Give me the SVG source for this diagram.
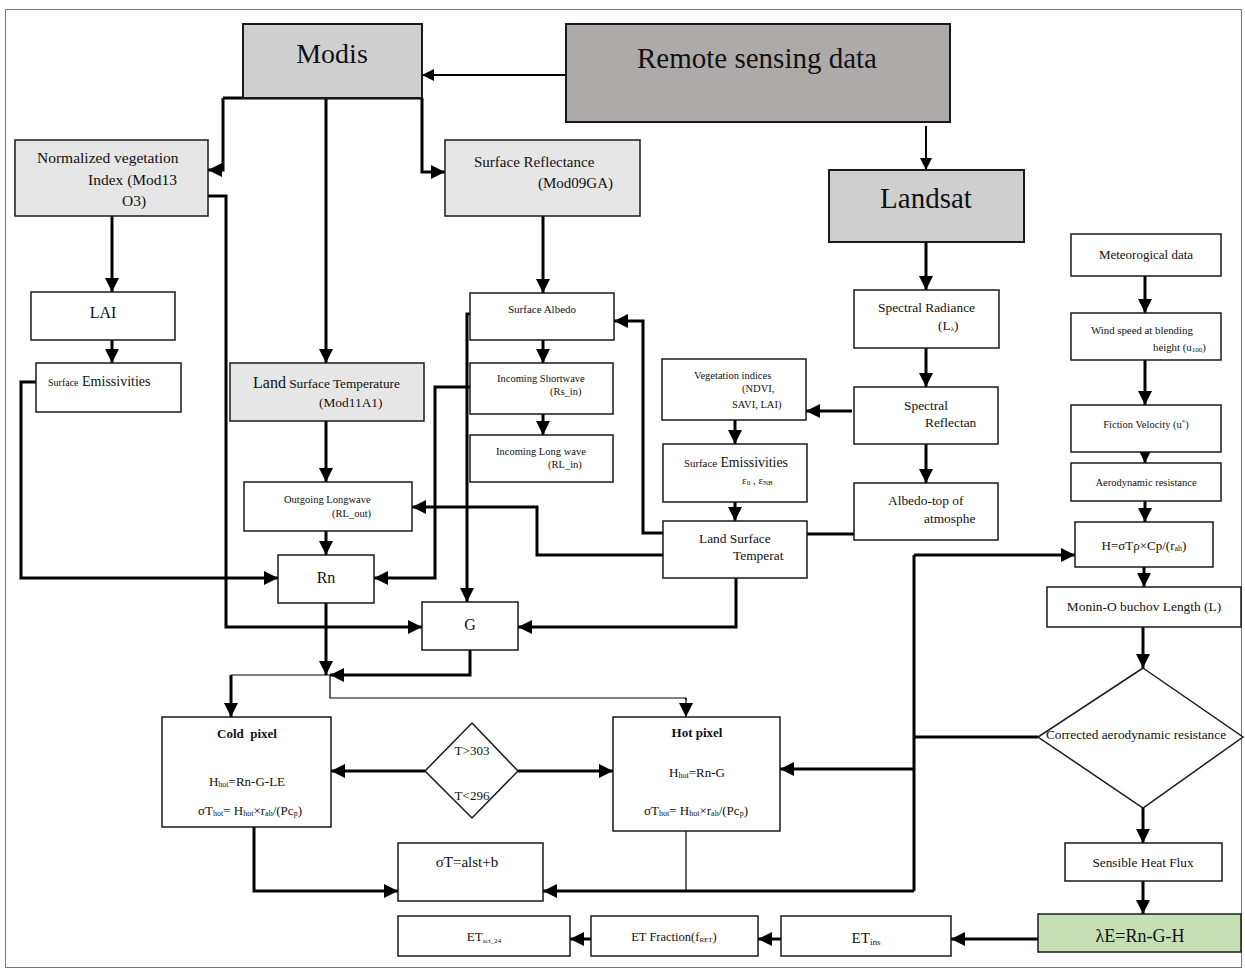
<svg xmlns="http://www.w3.org/2000/svg" width="1245" height="972" viewBox="0 0 1245 972">
<defs>
<marker id="ah" viewBox="0 0 10 10" refX="10" refY="5" markerWidth="14" markerHeight="14" markerUnits="userSpaceOnUse" orient="auto"><path d="M0,0 L10,5 L0,10 z" fill="#000"/></marker>
<marker id="ahs" viewBox="0 0 10 10" refX="10" refY="5" markerWidth="12" markerHeight="12" markerUnits="userSpaceOnUse" orient="auto"><path d="M0,0 L10,5 L0,10 z" fill="#000"/></marker>
</defs>
<style>
.box{fill:#fff;stroke:#1a1a1a;stroke-width:1.5}
.g1{fill:#e6e6e6}
.g2{fill:#d0cfd0;stroke-width:2}
.g3{fill:#aeaaa9;stroke-width:2}
.gr{fill:#c5e0b4}
text{font-family:"Liberation Serif","Times New Roman",serif;fill:#111}
.m{text-anchor:middle}
.c{stroke:#000;stroke-width:3;fill:none;marker-end:url(#ah)}
.n{stroke:#000;stroke-width:3;fill:none}
.t2{stroke:#000;stroke-width:2;fill:none;marker-end:url(#ahs)}
.t1{stroke:#000;stroke-width:1.2;fill:none}
.t1a{stroke:#000;stroke-width:1.2;fill:none;marker-end:url(#ah)}
</style>
<rect x="5.5" y="9.5" width="1236" height="958" fill="#fff" stroke="#777" stroke-width="1"/>

<g id="connectors">
<path class="t2" d="M566 75 H422"/>
<path class="t2" d="M926 126 V170"/>
<path class="n" d="M223 98 H422"/>
<path class="c" d="M223 98 V170 H208"/>
<path class="c" d="M326 98 V363"/>
<path class="c" d="M422 98 V172 H445"/>
<path class="c" d="M112 216 V292"/>
<path class="c" d="M112 340 V363"/>
<path class="c" d="M36 382 H21 V578 H278"/>
<path class="c" d="M208 196 H226 V627 H422"/>
<path class="c" d="M543 216 V293"/>
<path class="c" d="M543 340 V363"/>
<path class="c" d="M543 414 V435"/>
<path class="c" d="M470 314 H467 V602"/>
<path class="c" d="M470 387 H435 V578 H374"/>
<path class="c" d="M326 421 V482"/>
<path class="c" d="M326 531 V555"/>
<path class="c" d="M663 555 H537 V507 H412"/>
<path class="c" d="M663 533 H643 V321 H614"/>
<path class="c" d="M852 411 H806"/>
<path class="c" d="M735 420 V444"/>
<path class="c" d="M735 502 V521"/>
<path class="n" d="M807 534 H854"/>
<path class="c" d="M926 242 V290"/>
<path class="c" d="M926 348 V387"/>
<path class="c" d="M926 444 V483"/>
<path class="c" d="M736 578 V627 H518"/>
<path class="c" d="M326 603 V675"/>
<path class="c" d="M470 650 V675 H330"/>
<path class="t1" d="M330 675 H231"/>
<path class="c" d="M231 675 V717"/>
<path class="t1" d="M330 675 V698 H686 V700"/>
<path class="t1a" d="M686 698 V717"/>
<path class="c" d="M425 771 H331"/>
<path class="c" d="M518 771 H613"/>
<path class="c" d="M254 827 V891 H398"/>
<path class="t1" d="M686 831 V891"/>
<path class="n" d="M1038 737 H914"/>
<path class="n" d="M914 555 V891"/>
<path class="c" d="M914 555 H1075"/>
<path class="c" d="M914 769 H780"/>
<path class="c" d="M914 891 H543"/>
<path class="c" d="M1145 276 V313"/>
<path class="c" d="M1145 360 V405"/>
<path class="c" d="M1145 452 V463"/>
<path class="c" d="M1145 501 V522"/>
<path class="c" d="M1144 567 V587"/>
<path class="c" d="M1143 627 V668"/>
<path class="c" d="M1143 808 V843"/>
<path class="c" d="M1143 881 V914"/>
<path class="c" d="M1038 939 H951"/>
<path class="c" d="M781 939 H758"/>
<path class="c" d="M591 939 H570"/>
</g>

<g id="modis"><rect class="box g2" x="243" y="24" width="179" height="74"/><text class="m" x="332" y="63" font-size="28">Modis</text></g>
<g id="remote"><rect class="box g3" x="566" y="24" width="384" height="98"/><text class="m" x="757" y="68" font-size="29">Remote sensing data</text></g>
<g id="landsat"><rect class="box g2" x="829" y="170" width="195" height="72"/><text class="m" x="926" y="208" font-size="29">Landsat</text></g>
<g id="ndvi"><rect class="box g1" x="15" y="140" width="193" height="76"/><text x="37" y="163" font-size="15.5">Normalized vegetation</text><text x="88" y="185" font-size="15.5">Index (Mod13</text><text x="122" y="206" font-size="15.5">O3)</text></g>
<g id="surfrefl"><rect class="box g1" x="445" y="140" width="195" height="76"/><text x="474" y="167" font-size="15">Surface Reflectance</text><text x="538" y="188" font-size="15">(Mod09GA)</text></g>
<g id="lai"><rect class="box" x="31" y="292" width="144" height="48"/><text class="m" x="103" y="318" font-size="16">LAI</text></g>
<g id="se1"><rect class="box" x="36" y="363" width="145" height="49"/><text x="48" y="386"><tspan font-size="10">Surface</tspan><tspan font-size="14"> Emissivities</tspan></text></g>
<g id="lstm"><rect class="box g1" x="230" y="363" width="194" height="58"/><text x="253" y="388"><tspan font-size="16">Land</tspan><tspan font-size="13.3"> Surface Temperature</tspan></text><text x="319" y="407" font-size="13.4">(Mod11A1)</text></g>
<g id="albedo"><rect class="box" x="470" y="293" width="144" height="47"/><text class="m" x="542" y="313" font-size="11">Surface Albedo</text></g>
<g id="isw"><rect class="box" x="470" y="363" width="143" height="51"/><text x="497" y="382" font-size="10.5">Incoming Shortwave</text><text x="550" y="395" font-size="10.5">(Rs_in)</text></g>
<g id="ilw"><rect class="box" x="470" y="435" width="143" height="47"/><text x="496" y="455" font-size="10.5">Incoming Long wave</text><text x="548" y="468" font-size="10.5">(RL_in)</text></g>
<g id="olw"><rect class="box" x="244" y="482" width="168" height="49"/><text x="284" y="503" font-size="10.5">Outgoing Longwave</text><text x="332" y="517" font-size="10.5">(RL_out)</text></g>
<g id="rn"><rect class="box" x="278" y="555" width="96" height="48"/><text class="m" x="326" y="583" font-size="16">Rn</text></g>
<g id="g"><rect class="box" x="422" y="602" width="96" height="48"/><text class="m" x="470" y="630" font-size="16">G</text></g>
<g id="vi"><rect class="box" x="662" y="359" width="144" height="61"/><text x="694" y="379" font-size="10.5">Vegetation indices</text><text x="742" y="392" font-size="10.5">(NDVI,</text><text x="732" y="408" font-size="10.5">SAVI, LAI)</text></g>
<g id="se2"><rect class="box" x="663" y="444" width="144" height="58"/><text x="684" y="467"><tspan font-size="10.8">Surface</tspan><tspan font-size="13.8"> Emissivities</tspan></text><text x="742" y="484" font-size="11">ε<tspan font-size="7" dy="1">0</tspan><tspan dy="-1"> , ε</tspan><tspan font-size="7" dy="1">NB</tspan></text></g>
<g id="lstl"><rect class="box" x="663" y="521" width="144" height="57"/><text x="699" y="543" font-size="13.4">Land Surface</text><text x="733" y="560" font-size="13.4">Temperat</text></g>
<g id="sr"><rect class="box" x="854" y="290" width="145" height="58"/><text x="878" y="312" font-size="13.4">Spectral Radiance</text><text x="938" y="330" font-size="13.4">(L<tspan font-size="7" dy="1">λ</tspan><tspan dy="-1">)</tspan></text></g>
<g id="srefl"><rect class="box" x="854" y="387" width="144" height="57"/><text x="904" y="410" font-size="13.4">Spectral</text><text x="925" y="427" font-size="13.4">Reflectan</text></g>
<g id="albtop"><rect class="box" x="854" y="483" width="144" height="57"/><text x="888" y="505" font-size="13.4">Albedo-top of</text><text x="924" y="523" font-size="13.4">atmosphe</text></g>
<g id="met"><rect class="box" x="1071" y="234" width="150" height="42"/><text class="m" x="1146" y="259" font-size="13">Meteorogical data</text></g>
<g id="wind"><rect class="box" x="1071" y="313" width="150" height="47"/><text x="1091" y="334" font-size="10.8">Wind speed at blending</text><text x="1153" y="351" font-size="10.8">height (u<tspan font-size="7" dy="1">100</tspan><tspan dy="-1">)</tspan></text></g>
<g id="fric"><rect class="box" x="1071" y="405" width="150" height="47"/><text class="m" x="1146" y="428" font-size="10.5">Fiction Velocity (u<tspan font-size="7" dy="-4">*</tspan><tspan dy="4">)</tspan></text></g>
<g id="aero"><rect class="box" x="1071" y="463" width="150" height="38"/><text class="m" x="1146" y="486" font-size="10.5">Aerodynamic resistance</text></g>
<g id="hbox"><rect class="box" x="1075" y="522" width="138" height="45"/><text class="m" x="1144" y="550" font-size="13">H=σTρ×Cp/(r<tspan font-size="8" dy="1">ah</tspan><tspan dy="-1">)</tspan></text></g>
<g id="monin"><rect class="box" x="1047" y="587" width="194" height="40"/><text class="m" x="1144" y="611" font-size="13.4">Monin-O buchov Length (L)</text></g>
<g id="corr"><polygon class="box" points="1143,668 1243,737 1143,808 1038,737"/><text class="m" x="1136" y="739" font-size="13.3">Corrected aerodynamic resistance</text></g>
<g id="shf"><rect class="box" x="1065" y="843" width="157" height="38"/><text class="m" x="1143" y="867" font-size="13.3">Sensible Heat Flux</text></g>
<g id="le"><rect class="box gr" x="1038" y="914" width="203" height="38"/><text class="m" x="1140" y="942" font-size="18">λE=Rn-G-H</text></g>
<g id="cold"><rect class="box" x="162" y="717" width="169" height="110"/><text class="m" x="247" y="738" font-size="13" font-weight="bold">Cold&#160; pixel</text><text class="m" x="247" y="786" font-size="13">H<tspan font-size="8" dy="1">hot</tspan><tspan dy="-1">=Rn-G-LE</tspan></text><text class="m" x="250" y="815" font-size="13">σT<tspan font-size="8" dy="1">hot</tspan><tspan dy="-1">= H</tspan><tspan font-size="8" dy="1">hot</tspan><tspan dy="-1">×r</tspan><tspan font-size="8" dy="1">ah</tspan><tspan dy="-1">/(Pc</tspan><tspan font-size="8" dy="1">p</tspan><tspan dy="-1">)</tspan></text></g>
<g id="tdiam"><polygon class="box" points="472,723 518,771 472,818 425,771"/><text class="m" x="472" y="755" font-size="13">T&gt;303</text><text class="m" x="472" y="800" font-size="13">T&lt;296</text></g>
<g id="hot"><rect class="box" x="613" y="717" width="167" height="114"/><text class="m" x="697" y="737" font-size="13" font-weight="bold">Hot pixel</text><text class="m" x="697" y="777" font-size="13">H<tspan font-size="8" dy="1">hot</tspan><tspan dy="-1">=Rn-G</tspan></text><text class="m" x="696" y="815" font-size="13">σT<tspan font-size="8" dy="1">hot</tspan><tspan dy="-1">= H</tspan><tspan font-size="8" dy="1">hot</tspan><tspan dy="-1">×r</tspan><tspan font-size="8" dy="1">ah</tspan><tspan dy="-1">/(Pc</tspan><tspan font-size="8" dy="1">p</tspan><tspan dy="-1">)</tspan></text></g>
<g id="sigma"><rect class="box" x="398" y="843" width="145" height="58"/><text class="m" x="467" y="867" font-size="15">σT=alst+b</text></g>
<g id="etact"><rect class="box" x="398" y="916" width="172" height="40"/><text class="m" x="484" y="941" font-size="13">ET<tspan font-size="7" dy="2">act_24</tspan></text></g>
<g id="etf"><rect class="box" x="591" y="916" width="167" height="40"/><text class="m" x="674" y="941" font-size="12.5">ET Fraction(f<tspan font-size="7" dy="1">RET</tspan><tspan dy="-1">)</tspan></text></g>
<g id="etins"><rect class="box" x="781" y="916" width="170" height="40"/><text class="m" x="866" y="943" font-size="15">ET<tspan font-size="9" dy="2">ins</tspan></text></g>
</svg>
